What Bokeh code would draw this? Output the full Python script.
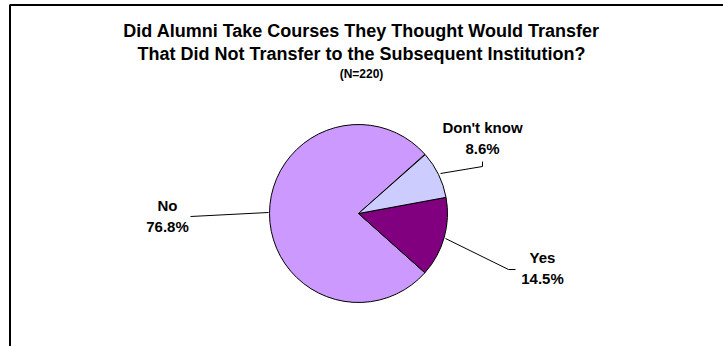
import math
from bokeh.plotting import figure
from bokeh.models import Range1d, ColumnDataSource
from bokeh.core.properties import value
from bokeh.embed import file_html
from bokeh.resources import INLINE

# ---- data ----
title_lines = ["Did Alumni Take Courses They Thought Would Transfer",
               "That Did Not Transfer to the Subsequent Institution?"]
subtitle = "(N=220)"
categories = ["No", "Yes", "Don't know"]
percents = [76.8, 14.5, 8.6]
colors = ["#CC99FF", "#800080", "#CCCCFF"]

W, H = 723, 346
FONT = "Liberation Sans"

def Y(y):  # pixel row -> data y
    return H - y

p = figure(width=W, height=H, output_backend="svg", toolbar_location=None,
           x_range=Range1d(0, W), y_range=Range1d(0, H), min_border=0)
p.axis.visible = False
p.grid.visible = False
p.outline_line_color = None
p.background_fill_color = "white"
p.border_fill_color = "white"

# chart frame (open at right/bottom like the cropped original)
p.line([9.5, 9.5, W + 5], [-5, Y(4.5), Y(4.5)], line_color="black", line_width=2)

# pie
cx, cy, r = 358, Y(213), 89
frac = [v / 100.0 for v in percents]
start0 = math.pi - frac[0] * math.pi  # "No" centred on the left
starts, ends = [], []
a = start0
for f in frac:
    starts.append(a)
    a += f * 2 * math.pi
    ends.append(a)
src = ColumnDataSource(dict(start=starts, end=ends, color=colors, cat=categories))
p.wedge(x=cx, y=cy, radius=r, start_angle="start", end_angle="end",
        fill_color="color", line_color="black", line_width=1, source=src)

# leader lines
p.line([190, 268], [Y(216), Y(212)], line_color="black", line_width=1)
p.line([482, 482, 440], [Y(161), Y(166), Y(173)], line_color="black", line_width=1)
p.line([515, 508, 445], [Y(269), Y(269), Y(238)], line_color="black", line_width=1)

# slice labels
lab_pos = {"No": (167, 205), "Yes": (542, 257), "Don't know": (482, 127)}
lx, ly, lt = [], [], []
for c, v in zip(categories, percents):
    x0, y0 = lab_pos[c]
    lx += [x0, x0]
    ly += [Y(y0), Y(y0 + 21)]
    lt += [c, f"{v:.1f}%"]
p.text(x=lx, y=ly, text=lt, text_align="center", text_baseline="middle",
       text_font=value(FONT), text_font_style="bold", text_font_size="15px",
       text_color="black")

# title
p.text(x=[361, 361], y=[Y(30), Y(53)], text=title_lines, text_align="center",
       text_baseline="middle", text_font=value(FONT), text_font_style="bold",
       text_font_size="18px", text_color="black")
p.text(x=[361], y=[Y(73)], text=[subtitle], text_align="center",
       text_baseline="middle", text_font=value(FONT), text_font_style="bold",
       text_font_size="12px", text_color="black")

open("out.html", "w").write(file_html(p, INLINE))
